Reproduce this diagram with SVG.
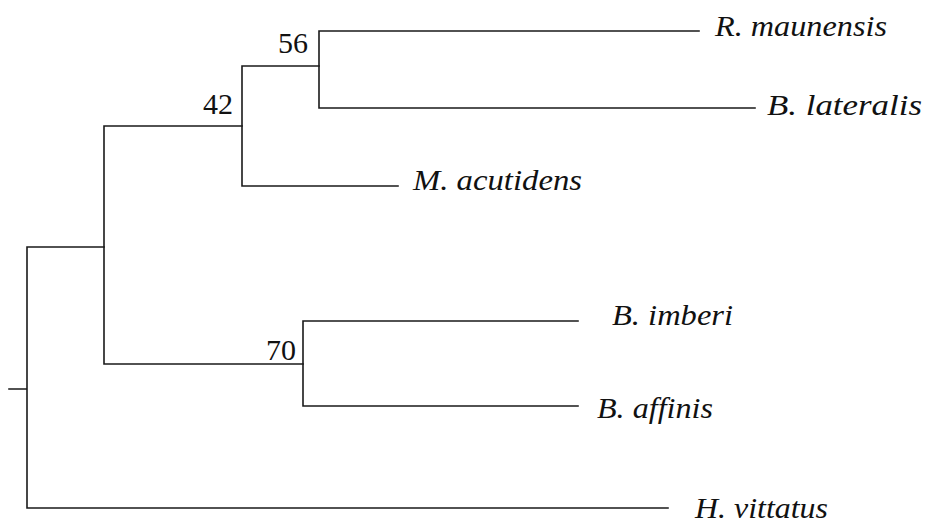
<svg xmlns="http://www.w3.org/2000/svg" width="950" height="524" viewBox="0 0 950 524">
<style>
.b{stroke:#1a1a1a;stroke-width:1.6;fill:none;stroke-linecap:square}
text{font-family:'Liberation Serif','Times New Roman',Times,serif;fill:#111}
.t{font-style:italic;font-size:29px}
.n{font-size:30px}
</style>
<rect width="950" height="524" fill="#fff"/>
<g id="connectors">
<path class="b" d="M9,389H27M27,247V508M27,247H104M27,508H668"/>
<path class="b" d="M104,126V364M104,126H242M104,364H303"/>
<path class="b" d="M242,66V186M242,66H319M242,186H398"/>
<path class="b" d="M319,31V108M319,31H699M319,108H755"/>
<path class="b" d="M303,321V406M303,321H578M303,406H578"/>
</g>
<g id="n56"><text class="n" x="308" y="53" text-anchor="end">56</text></g>
<g id="n42"><text class="n" x="233" y="114" text-anchor="end">42</text></g>
<g id="n70"><text class="n" x="296" y="360" text-anchor="end">70</text></g>
<g id="rmaunensis"><text class="t" x="715" y="36" textLength="172" lengthAdjust="spacingAndGlyphs">R. maunensis</text></g>
<g id="blateralis"><text class="t" x="767" y="115" textLength="155" lengthAdjust="spacingAndGlyphs">B. lateralis</text></g>
<g id="macutidens"><text class="t" x="413" y="190" textLength="169" lengthAdjust="spacingAndGlyphs">M. acutidens</text></g>
<g id="bimberi"><text class="t" x="612" y="325" textLength="121" lengthAdjust="spacingAndGlyphs">B. imberi</text></g>
<g id="baffinis"><text class="t" x="597" y="418" textLength="116" lengthAdjust="spacingAndGlyphs">B. affinis</text></g>
<g id="hvittatus"><text class="t" x="695" y="518" textLength="133" lengthAdjust="spacingAndGlyphs">H. vittatus</text></g>
</svg>
